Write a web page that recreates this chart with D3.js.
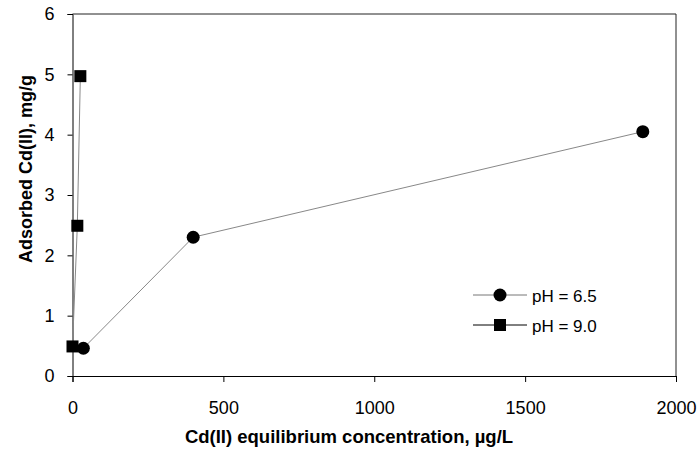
<!DOCTYPE html>
<html>
<head>
<meta charset="utf-8">
<script src="https://cdn.jsdelivr.net/npm/d3@7"></script>
<style>
  body { margin: 0; background: #fff; }
  svg text { font-family: "Liberation Sans", Arial, sans-serif; }
</style>
</head>
<body>
<div id="chart"></div>
<script>
// pH 6.5 series (circles)
const ph65Conc = [36, 400, 1890];
const ph65Ads = [0.46, 2.3, 4.05];

// pH 9.0 series (squares)
const ph90Conc = [0, 16, 26];
const ph90Ads = [0.49, 2.49, 4.97];

const xTicks = [0, 500, 1000, 1500, 2000];
const yTicks = [0, 1, 2, 3, 4, 5, 6];
const legendLabels = ['pH = 6.5', 'pH = 9.0'];

const width = 699, height = 457;
const margin = {top: 14, right: 23, bottom: 81, left: 72.5};

const svg = d3.select('#chart').append('svg')
    .attr('width', width)
    .attr('height', height);

const x = d3.scaleLinear().domain([0, 2000]).range([margin.left, width - margin.right]);
const y = d3.scaleLinear().domain([0, 6]).range([height - margin.bottom, margin.top]);

// frame top + right
svg.append('path')
    .attr('d', `M${x(0)},${y(6)}H${x(2000)}V${y(0)}`)
    .attr('fill', 'none')
    .attr('stroke', '#222')
    .attr('stroke-width', 1);

// axes
const xAxis = svg.append('g')
    .attr('transform', `translate(0,${y(0)})`)
    .call(d3.axisBottom(x).tickValues(xTicks).tickSize(6).tickPadding(19).tickFormat(d3.format('d')));
const yAxis = svg.append('g')
    .attr('transform', `translate(${x(0)},0)`)
    .call(d3.axisLeft(y).tickValues(yTicks).tickSize(5).tickPadding(13).tickFormat(d3.format('d')));

[xAxis, yAxis].forEach(g => {
    g.select('.domain').attr('stroke', '#000');
    g.selectAll('.tick line').attr('stroke', '#000');
    g.selectAll('.tick text').attr('font-size', 18).attr('fill', '#000')
        .attr('font-family', '"Liberation Sans", Arial, sans-serif');
});

// axis titles
svg.append('text')
    .attr('x', 349)
    .attr('y', 443)
    .attr('text-anchor', 'middle')
    .attr('font-size', 18.5)
    .attr('font-weight', 'bold')
    .text('Cd(II) equilibrium concentration, µg/L');

svg.append('text')
    .attr('transform', 'translate(31.5,169) rotate(-90)')
    .attr('text-anchor', 'middle')
    .attr('font-size', 18)
    .attr('font-weight', 'bold')
    .text('Adsorbed Cd(II), mg/g');

const line = d3.line().x(d => x(d[0])).y(d => y(d[1]));
const ph65 = ph65Conc.map((c, i) => [c, ph65Ads[i]]);
const ph90 = ph90Conc.map((c, i) => [c, ph90Ads[i]]);

svg.append('path').datum(ph65).attr('d', line)
    .attr('fill', 'none').attr('stroke', '#888').attr('stroke-width', 1);
svg.append('path').datum(ph90).attr('d', line)
    .attr('fill', 'none').attr('stroke', '#888').attr('stroke-width', 1);

const rad = 6.5;
svg.selectAll('.circ').data(ph65).join('circle')
    .attr('class', 'circ')
    .attr('cx', d => x(d[0])).attr('cy', d => y(d[1]))
    .attr('r', rad).attr('fill', '#000');

const sq = 12;
svg.selectAll('.sq').data(ph90).join('rect')
    .attr('class', 'sq')
    .attr('x', d => x(d[0]) - sq / 2).attr('y', d => y(d[1]) - sq / 2)
    .attr('width', sq).attr('height', sq).attr('fill', '#000');

// legend
const legend = svg.append('g').attr('transform', 'translate(473,295)');
legendLabels.forEach((lab, i) => {
    const g = legend.append('g').attr('transform', `translate(0,${i * 30})`);
    g.append('line').attr('x1', 0).attr('x2', 54).attr('y1', 0).attr('y2', 0)
        .attr('stroke', i === 0 ? '#777' : '#000').attr('stroke-width', 1);
    if (i === 0) {
        g.append('circle').attr('cx', 27).attr('cy', 0).attr('r', rad).attr('fill', '#000');
    } else {
        g.append('rect').attr('x', 27 - sq / 2).attr('y', -sq / 2)
            .attr('width', sq).attr('height', sq).attr('fill', '#000');
    }
    g.append('text').attr('x', 59).attr('y', 6.5)
        .attr('font-size', 17).text(lab);
});
</script>
</body>
</html>
